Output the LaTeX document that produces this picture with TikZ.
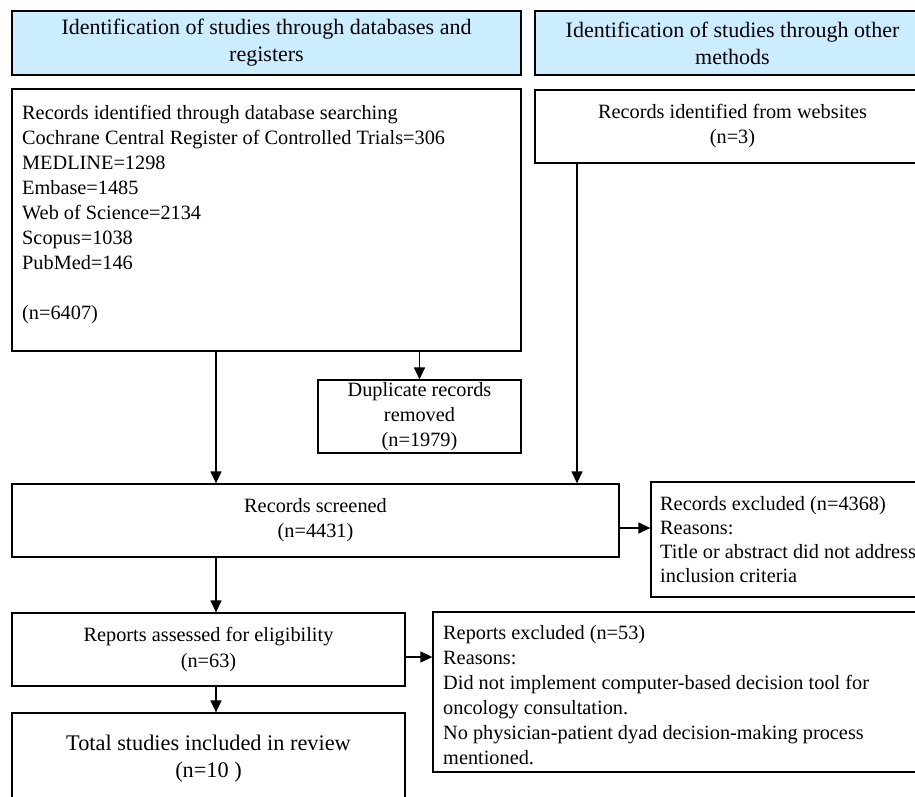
\documentclass[tikz,border=0pt]{standalone}
\usepackage{fontspec}
\setmainfont{Liberation Serif}
\usetikzlibrary{arrows.meta}
\definecolor{hdrblue}{RGB}{204,236,255}
\begin{document}
\begin{tikzpicture}[x=1pt,y=-1pt,
  box/.style={draw=black, line width=1.3pt, inner sep=0pt, align=center,
              font=\fontsize{20.3}{25}\selectfont},
  hdr/.style={box, fill=hdrblue, font=\fontsize{22}{27}\selectfont},
  lbl/.style={anchor=north west, inner sep=0pt, align=left,
              font=\fontsize{20.3}{25}\selectfont},
  arr/.style={line width=1.3pt, -{Triangle[length=12pt,width=11pt]}}]
\useasboundingbox (0,0) rectangle (915,796);
\clip (0,0) rectangle (915,796);
\fill[white] (0,0) rectangle (915,796);

% headers
\node[hdr, minimum width=509pt, minimum height=64pt] (hdrA) at (266.5,43)
  {Identification of studies through databases and\\registers};
\node[hdr, minimum width=395pt, minimum height=64pt] (hdrB) at (732.5,43)
  {Identification of studies through other\\methods};

% boxes
\node[box, minimum width=509pt, minimum height=262pt] (db) at (266.5,220) {};
\node[lbl] (dbt) at (22,105) {Records identified through database searching\\
  Cochrane Central Register of Controlled Trials=306\\
  MEDLINE=1298\\Embase=1485\\Web of Science=2134\\Scopus=1038\\
  PubMed=146\\[25pt](n=6407)};
\node[box, minimum width=395pt, minimum height=73pt] (web) at (732.5,126.5)
  {Records identified from websites\\(n=3)};
\node[box, minimum width=203pt, minimum height=73pt] (dup) at (419.5,416.5)
  {Duplicate records\\removed\\(n=1979)};
\node[box, minimum width=607pt, minimum height=73pt] (scr) at (315.5,520.5)
  {Records screened\\(n=4431)};
\node[box, minimum width=279pt, minimum height=115pt] (excl) at (790.5,539.5) {};
\node[lbl, font=\fontsize{20.3}{24}\selectfont] (exclt) at (660,496)
  {Records excluded (n=4368)\\Reasons:\\Title or abstract did not address\\inclusion criteria};
\node[box, minimum width=393pt, minimum height=73pt] (rep) at (208.5,649.5)
  {Reports assessed for eligibility\\(n=63)};
\node[box, minimum width=497pt, minimum height=160pt] (repx) at (681.5,692) {};
\node[lbl] (repxt) at (443,625)
  {Reports excluded (n=53)\\Reasons:\\Did not implement computer-based decision tool for\\
   oncology consultation.\\No physician-patient dyad decision-making process\\mentioned.};
\node[box, minimum width=393pt, minimum height=91pt,
      font=\fontsize{22.3}{27}\selectfont] (tot) at (208.5,758.5)
  {Total studies included in review\\(n=10 )};

% connectors
\coordinate (xl) at (216,0);
\coordinate (xw) at (577,0);
\coordinate (ya) at (0,528);
\coordinate (yb) at (0,657);
\draw[arr] (xl |- db.south) -- (xl |- scr.north);
\draw[arr] (dup.north |- db.south) -- (dup.north);
\draw[arr] (xw |- web.south) -- (xw |- scr.north);
\draw[arr] (scr.east |- ya) -- (excl.west |- ya);
\draw[arr] (xl |- scr.south) -- (xl |- rep.north);
\draw[arr] (rep.east |- yb) -- (repx.west |- yb);
\draw[arr] (xl |- rep.south) -- (xl |- tot.north);
\end{tikzpicture}
\end{document}
